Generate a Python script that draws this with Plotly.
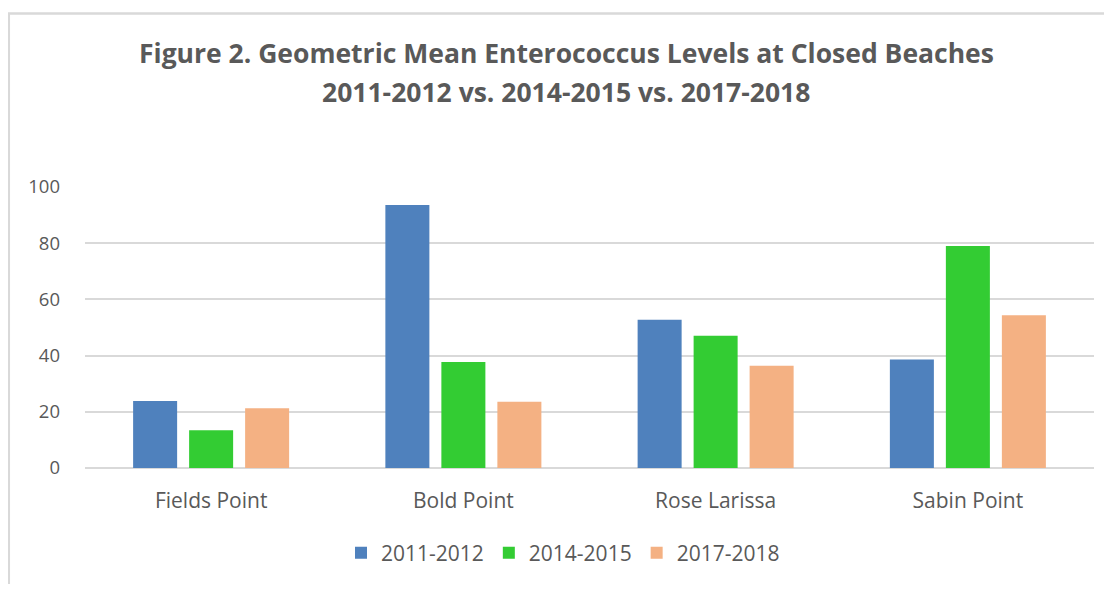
import plotly.graph_objects as go

categories = ["Fields Point", "Bold Point", "Rose Larissa", "Sabin Point"]
series_names = ["2011-2012", "2014-2015", "2017-2018"]
v_2011_2012 = [23.8, 93.6, 52.8, 38.6]
v_2014_2015 = [13.4, 37.7, 47.1, 79.0]
v_2017_2018 = [21.3, 23.6, 36.4, 54.4]
y_ticks = [0, 20, 40, 60, 80, 100]
title_line1 = "Figure 2. Geometric Mean Enterococcus Levels at Closed Beaches"
title_line2 = "2011-2012 vs. 2014-2015 vs. 2017-2018"

colors = ["#4F81BD", "#33CC33", "#F4B183"]

# page is rendered with an 8px body margin
OFF = 8
W, H = 1096, 576
ml, mr, mt, mb = 77, 10, 178.7, 110.8
pw = W - ml - mr
ph = H - mt - mb


def px(page_x):
    return (page_x - OFF - ml) / pw


def py(page_y):
    return (H - mb - (page_y - OFF)) / ph


fig = go.Figure()
for name, vals, c in zip(series_names, [v_2011_2012, v_2014_2015, v_2017_2018], colors):
    fig.add_trace(go.Bar(x=categories, y=vals, name=name,
                         marker=dict(color=c, line=dict(width=0))))

font_family = "Open Sans, sans-serif"
fig.update_layout(
    width=W, height=H,
    margin=dict(l=ml, r=mr, t=mt, b=mb, pad=0),
    paper_bgcolor="white", plot_bgcolor="white",
    barmode="group", bargap=0.334, bargroupgap=0.214,
    font=dict(family=font_family, size=18, color="#595959"),
    showlegend=True,
    legend=dict(orientation="h", x=px(563), xanchor="center", y=py(560), yanchor="middle",
                font=dict(size=21, color="#595959"), itemwidth=30, traceorder="normal",
                bgcolor="rgba(0,0,0,0)"),
    xaxis=dict(showgrid=False, ticks="", showline=False, ticklabelstandoff=18,
               tickfont=dict(size=21, color="#595959")),
    yaxis=dict(range=[0, 100], tickvals=y_ticks, showgrid=True, gridcolor="#D9D9D9", gridwidth=1.5,
               zeroline=True, zerolinecolor="#D9D9D9", zerolinewidth=1.5, showline=False,
               ticks="", ticklabelstandoff=24, tickfont=dict(size=18.5, color="#595959")),
    annotations=[
        dict(text="<b>" + title_line1 + "</b>", xref="paper", yref="paper", x=px(566),
             y=py(50), xanchor="center", yanchor="middle", showarrow=False,
             font=dict(size=26.5, color="#595959", family=font_family)),
        dict(text="<b>" + title_line2 + "</b>", xref="paper", yref="paper", x=px(566),
             y=py(90), xanchor="center", yanchor="middle", showarrow=False,
             font=dict(size=26.5, color="#595959", family=font_family)),
    ],
    shapes=[
        dict(type="rect", xref="paper", yref="paper",
             x0=px(8.8), x1=px(1130), y0=py(620), y1=py(9.8),
             line=dict(color="#D9D9D9", width=2.5), fillcolor="rgba(0,0,0,0)", layer="below"),
    ],
)
fig.write_html("out.html")
